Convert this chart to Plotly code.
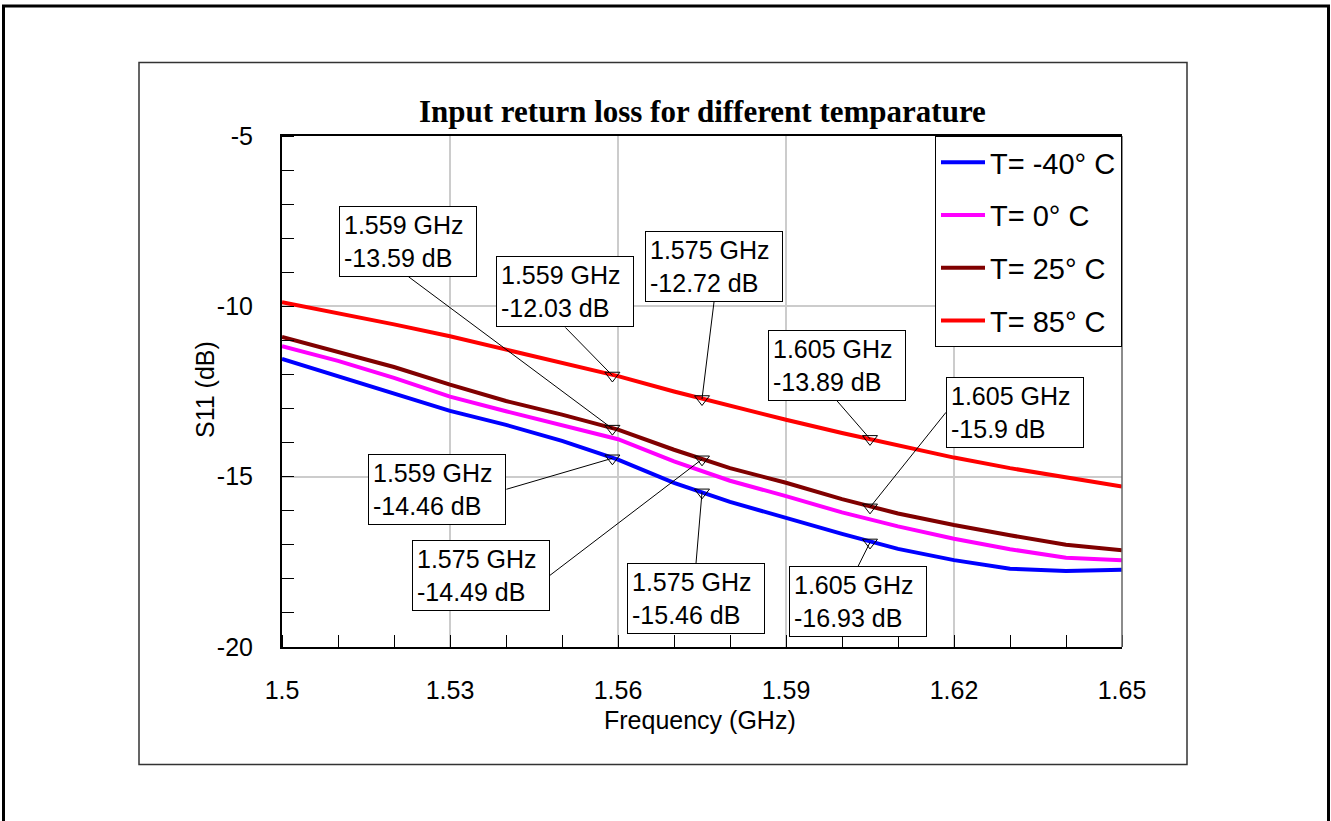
import plotly.graph_objects as go

# ---------------- data ----------------
freq = [1.50, 1.51, 1.52, 1.53, 1.54, 1.55, 1.56, 1.57, 1.58, 1.59,
        1.60, 1.61, 1.62, 1.63, 1.64, 1.65]

s11_m40 = [-11.54, -12.05, -12.56, -13.07, -13.48, -13.95, -14.50, -15.18,
           -15.74, -16.22, -16.68, -17.12, -17.45, -17.70, -17.77, -17.73]
s11_0 = [-11.17, -11.60, -12.10, -12.65, -13.08, -13.48, -13.90, -14.55,
         -15.12, -15.57, -16.05, -16.46, -16.82, -17.13, -17.38, -17.45]
s11_25 = [-10.90, -11.35, -11.78, -12.30, -12.78, -13.18, -13.62, -14.21,
          -14.75, -15.18, -15.66, -16.08, -16.42, -16.72, -17.00, -17.16]
s11_85 = [-9.88, -10.20, -10.53, -10.88, -11.27, -11.65, -12.05, -12.50,
          -12.92, -13.33, -13.72, -14.08, -14.44, -14.75, -15.02, -15.29]

series_names = ["T= -40\u00b0 C", "T= 0\u00b0 C", "T= 25\u00b0 C", "T= 85\u00b0 C"]
series_values = [s11_m40, s11_0, s11_25, s11_85]
series_colors = ["#0000FF", "#FF00FF", "#800000", "#FF0000"]

# marker points (frequency GHz, S11 dB)
mark_freq = [1.559, 1.559, 1.559, 1.575, 1.575, 1.575, 1.605, 1.605, 1.605]
mark_db = [-13.59, -12.03, -14.46, -12.72, -14.49, -15.46, -13.89, -15.9, -16.93]

x_ticks = [1.5, 1.53, 1.56, 1.59, 1.62, 1.65]
x_ticktext = ["1.5", "1.53", "1.56", "1.59", "1.62", "1.65"]
y_ticks = [-5, -10, -15, -20]
y_ticktext = ["-5", "-10", "-15", "-20"]

# ---------------- layout geometry (pixels) ----------------
W, H = 1331, 821
L, R, T, B = 282, 1122, 136, 647


def px(X):
    return (X - L) / (R - L)


def py(Y):
    return (B - Y) / (B - T)


# callout placement: (dx, dy) pixel offset of line tail from point, anchors
callout_layout = [
    (-204, -152, "center", "bottom"),   # -13.59
    (-47, -48, "center", "bottom"),     # -12.03
    (-106, 31, "right", "middle"),      # -14.46
    (12, -97, "center", "bottom"),      # -12.72
    (-152, 116, "right", "middle"),     # -14.49
    (-6, 71, "center", "top"),          # -15.46
    (-33, -38, "center", "bottom"),     # -13.89
    (76, -95, "left", "middle"),        # -15.9
    (-12, 24, "center", "top"),         # -16.93
]

FONT = "Arial, 'Liberation Sans', sans-serif"

fig = go.Figure()

for name, vals, col in zip(series_names, series_values, series_colors):
    fig.add_trace(go.Scatter(
        x=freq, y=vals, mode="lines", name=name,
        line=dict(color=col, width=4),
        legendgroup=name,
    ))

fig.add_trace(go.Scatter(
    x=mark_freq, y=mark_db, mode="markers", showlegend=False,
    marker=dict(symbol="triangle-down-open", size=13, color="black",
                line=dict(width=1, color="black")),
    hoverinfo="skip",
))

annotations = []
for f, v, (dx, dy, xa, ya) in zip(mark_freq, mark_db, callout_layout):
    annotations.append(dict(
        x=f, y=v, xref="x", yref="y",
        text=f"{f:g} GHz<br>{v:g} dB",
        showarrow=True, arrowhead=0, arrowwidth=1, arrowcolor="black",
        ax=dx, ay=dy, axref="pixel", ayref="pixel",
        xanchor=xa, yanchor=ya,
        align="left",
        font=dict(family=FONT, size=25, color="black"),
        bgcolor="white", bordercolor="black", borderwidth=1, borderpad=4,
        width=128,
    ))

# title
annotations.append(dict(
    x=0.5, y=py(111), xref="paper", yref="paper",
    text="<b>Input return loss for different temparature</b>",
    showarrow=False, xanchor="center", yanchor="middle",
    font=dict(family="'Liberation Serif', 'Times New Roman', serif", size=31, color="black"),
))
# axis titles
annotations.append(dict(
    x=px(205), y=py(390), xref="paper", yref="paper",
    text="S11 (dB)", textangle=-90, showarrow=False,
    xanchor="center", yanchor="middle",
    font=dict(family=FONT, size=25, color="black"),
))
annotations.append(dict(
    x=px(700), y=py(720), xref="paper", yref="paper",
    text="Frequency (GHz)", showarrow=False,
    xanchor="center", yanchor="middle",
    font=dict(family=FONT, size=25, color="black"),
))

shapes = [
    # outer page border
    dict(type="rect", xref="paper", yref="paper",
         x0=px(3.5), x1=px(1328.5), y0=py(830), y1=py(6),
         line=dict(color="black", width=3), layer="above"),
    # inner chart border
    dict(type="rect", xref="paper", yref="paper",
         x0=px(139), x1=px(1187), y0=py(764.5), y1=py(62.5),
         line=dict(color="#333333", width=1.5), layer="below"),
    # right edge of plot area
    dict(type="line", xref="paper", yref="paper",
         x0=1, x1=1, y0=0, y1=1,
         line=dict(color="#666666", width=1.5), layer="above"),
]

fig.update_layout(
    width=W, height=H, autosize=False,
    margin=dict(l=L, r=W - R, t=T, b=H - B, pad=0),
    paper_bgcolor="white", plot_bgcolor="white",
    font=dict(family=FONT, size=25, color="black"),
    showlegend=True,
    legend=dict(
        x=1, y=1, xanchor="right", yanchor="top",
        bgcolor="white", bordercolor="black", borderwidth=1,
        font=dict(family=FONT, size=29, color="black"),
        traceorder="grouped", tracegroupgap=12,
        itemwidth=44,
    ),
    annotations=annotations,
    shapes=shapes,
)

fig.update_xaxes(
    range=[1.5, 1.65], tickmode="array", tickvals=x_ticks, ticktext=x_ticktext,
    ticks="", ticklabelstandoff=20,
    showgrid=True, gridcolor="#cccccc", gridwidth=1.5,
    showline=True, linecolor="black", linewidth=2, mirror=True,
    zeroline=False,
    tickfont=dict(family=FONT, size=25, color="black"),
    minor=dict(dtick=0.01, tick0=1.5, ticks="inside", ticklen=12,
               tickcolor="black", tickwidth=1, showgrid=False),
)
fig.update_yaxes(
    range=[-20, -5], tickmode="array", tickvals=y_ticks, ticktext=y_ticktext,
    ticks="", ticklabelstandoff=22,
    showgrid=True, gridcolor="#cccccc", gridwidth=1.5,
    showline=True, linecolor="black", linewidth=2, mirror=False,
    zeroline=False,
    tickfont=dict(family=FONT, size=25, color="black"),
    minor=dict(dtick=1, tick0=-20, ticks="inside", ticklen=12,
               tickcolor="black", tickwidth=1, showgrid=False),
)

fig.write_html("out.html")
